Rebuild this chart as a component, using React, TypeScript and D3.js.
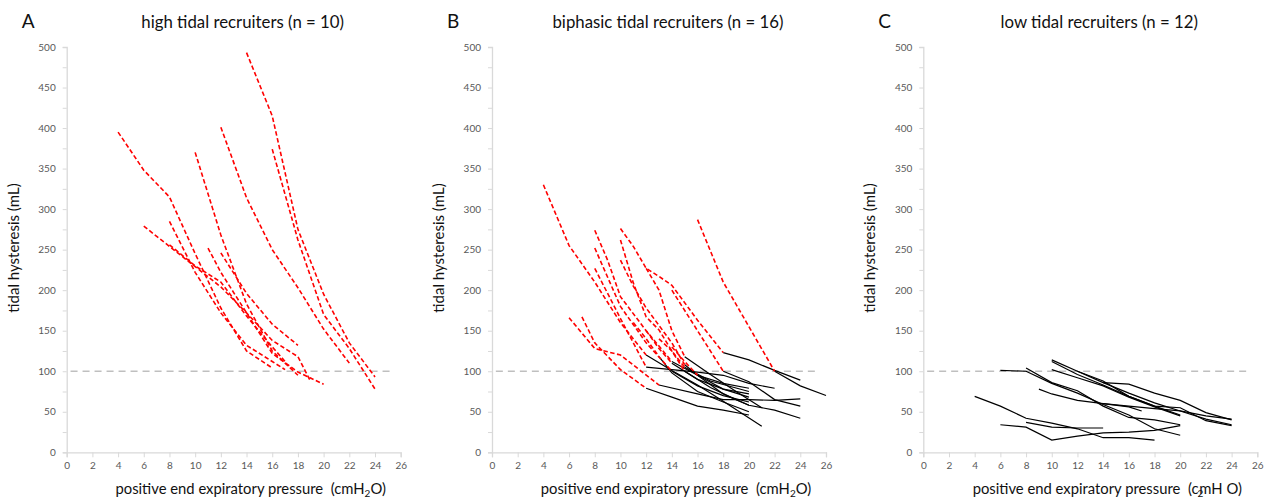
import React, { useEffect, useRef } from "react";
import * as d3 from "d3";

type Pt = [number, number];

// PEEP (cmH2O) tick labels and hysteresis (mL) tick labels
const xTicks = [0, 2, 4, 6, 8, 10, 12, 14, 16, 18, 20, 22, 24, 26];
const yTicks = [0, 50, 100, 150, 200, 250, 300, 350, 400, 450, 500];
const threshold = 100;

// A: high tidal recruiters, all dashed red
const highTidal: Pt[][] = [
  [[14, 493], [16, 415], [18, 275], [20, 195], [22, 135], [24, 93]],
  [[16, 374], [18, 262], [20, 170], [22, 128], [24, 78]],
  [[12, 401], [14, 314], [16, 250], [18, 203], [20, 152], [22, 110]],
  [[10, 370], [12, 268], [14, 183], [16, 125], [18, 95]],
  [[4, 395], [6, 348], [8, 315], [10, 245], [12, 178], [14, 125], [16, 104]],
  [[6, 279], [8, 254], [10, 229], [12, 204], [14, 172], [16, 138], [18, 118], [19, 87]],
  [[8, 285], [10, 222], [12, 172], [14, 132], [16, 112], [17, 102]],
  [[11, 252], [12, 222], [14, 172], [16, 122], [18, 99], [20, 84]],
  [[12, 246], [14, 196], [16, 158], [18, 132]],
  [[8, 256], [10, 230], [12, 210], [14, 168], [16, 130], [17, 112]],
];

// B: biphasic recruiters, dashed red part then solid black part
const biphasicRed: Pt[][] = [
  [[4, 330], [6, 255], [8, 210], [10, 160], [12, 120]],
  [[8, 274], [9, 237], [10, 192], [12, 150], [14, 112]],
  [[8, 252], [10, 180], [12, 135], [14, 100]],
  [[8, 227], [10, 165], [12, 105]],
  [[10, 262], [11, 209], [12, 167], [13, 151], [14, 125], [15, 105]],
  [[10, 276], [11, 254], [12, 227], [13, 217], [14, 206], [16, 163], [18, 123]],
  [[10, 237], [11, 205], [12, 178], [14, 135], [15, 108]],
  [[6, 166], [8, 128], [10, 120], [13, 83]],
  [[7, 167], [8, 135], [10, 102], [12, 79]],
  [[16, 287], [18, 210], [20, 155], [22, 100]],
  [[12, 227], [13, 200], [14, 150], [15, 118]],
  [[14, 200], [16, 150], [18, 100]],
  [[12, 150], [13, 128], [14, 110]],
  [[11, 160], [12, 140], [13, 118]],
  [[13, 140], [14, 125], [15, 100]],
  [[14, 130], [15, 112], [16, 95]],
];
const biphasicBlack: Pt[][] = [
  [[12, 120], [14, 101], [16, 83], [18, 63], [21, 32]],
  [[14, 112], [16, 95], [18, 85], [20, 79]],
  [[14, 100], [16, 82], [18, 70], [20, 62]],
  [[12, 105], [14, 102], [16, 99], [18, 95], [20, 85], [22, 79]],
  [[15, 105], [17, 88], [20, 75]],
  [[18, 123], [20, 114], [22, 101], [24, 89]],
  [[15, 108], [16, 95], [18, 72], [20, 58], [22, 52], [24, 42]],
  [[13, 83], [16, 72], [18, 65], [20, 65], [22, 64], [24, 66]],
  [[12, 79], [14, 68], [16, 57], [18, 52], [20, 46]],
  [[22, 100], [24, 82], [26, 70]],
  [[15, 118], [17, 96], [19, 75], [21, 55]],
  [[18, 100], [20, 87], [22, 65], [24, 57]],
  [[14, 110], [16, 90], [18, 78], [20, 72]],
  [[13, 118], [14, 98], [16, 75], [18, 62], [20, 50]],
  [[15, 100], [17, 80], [19, 65], [20, 58]],
  [[16, 95], [18, 78], [20, 68]],
];

// C: low tidal recruiters, all solid black
const lowTidal: Pt[][] = [
  [[4, 69], [6, 57], [8, 42], [10, 36], [12, 29], [14, 18], [16, 18], [18, 15]],
  [[6, 34], [8, 31], [10, 15], [12, 20], [14, 24], [16, 25], [18, 27], [20, 33]],
  [[8, 37], [10, 31], [12, 30], [14, 30]],
  [[6, 101], [8, 100], [10, 85], [12, 73], [14, 59], [16, 46], [18, 29], [20, 21]],
  [[8, 104], [10, 86], [12, 76], [14, 57], [16, 43], [18, 40], [20, 34]],
  [[10, 114], [12, 100], [14, 86], [16, 73], [18, 61], [20, 51], [22, 41], [24, 34]],
  [[10, 112], [12, 96], [14, 83], [16, 69], [18, 57], [20, 55], [22, 39], [24, 33]],
  [[10, 102], [12, 92], [14, 82], [16, 68], [18, 56], [20, 45]],
  [[12, 100], [14, 88], [16, 69], [18, 57], [20, 46]],
  [[14, 86], [16, 84], [18, 73], [20, 64], [22, 49], [24, 40]],
  [[9, 78], [10, 72], [12, 64], [14, 60], [16, 56], [17, 51]],
  [[14, 60], [16, 57], [18, 54], [20, 51], [22, 45], [24, 41]],
];

const panels = [
  { letter: "A", title: "high tidal recruiters (n = 10)", left: 66.7, red: highTidal, black: [] as Pt[][], garbled: false },
  { letter: "B", title: "biphasic tidal recruiters (n = 16)", left: 492, red: biphasicRed, black: biphasicBlack, garbled: false },
  { letter: "C", title: "low tidal recruiters (n = 12)", left: 923.3, red: [] as Pt[][], black: lowTidal, garbled: true },
];

const FONT = "Lato, 'Open Sans', sans-serif";

const App = () => {
  const ref = useRef<SVGSVGElement>(null);

  useEffect(() => {
    const svg = d3.select(ref.current);
    svg.selectAll("*").remove();

    panels.forEach((p) => {
      const x = d3.scaleLinear().domain([0, 26]).range([p.left, p.left + 334]);
      const y = d3.scaleLinear().domain([0, 500]).range([452.3, 47]);
      const g = svg.append("g");
      const line = d3
        .line<Pt>()
        .x((d) => x(d[0]))
        .y((d) => y(d[1]));

      // y axis with minor ticks every 25
      const yAxis = d3
        .axisLeft(y)
        .tickValues(d3.range(0, 501, 25))
        .tickSize(4)
        .tickPadding(7)
        .tickFormat((d) => ((d as number) % 50 === 0 && yTicks.includes(d as number) ? String(d) : ""));
      const gy = g.append("g").attr("transform", `translate(${p.left},0)`).call(yAxis);
      gy.select(".domain").attr("stroke", "#d9d9d9").attr("stroke-width", 1.3);
      gy.selectAll(".tick line").attr("stroke", "#d9d9d9");
      gy.selectAll("text").attr("fill", "#595959").style("font-size", "10px").style("font-family", FONT);

      const xAxis = d3.axisBottom(x).tickValues(xTicks).tickSize(5).tickPadding(5);
      const gx = g.append("g").attr("transform", `translate(0,452.3)`).call(xAxis);
      gx.select(".domain").attr("stroke", "#d9d9d9").attr("stroke-width", 1.3);
      gx.selectAll(".tick line").attr("stroke", "#d9d9d9");
      gx.selectAll("text").attr("fill", "#595959").style("font-size", "10px").style("font-family", FONT);

      // 100 mL threshold
      g.append("line")
        .attr("x1", x(0.3))
        .attr("x2", x(25.4))
        .attr("y1", y(threshold))
        .attr("y2", y(threshold))
        .attr("stroke", "#bfbfbf")
        .attr("stroke-width", 1.6)
        .attr("stroke-dasharray", "7,5");

      g.selectAll("path.black")
        .data(p.black)
        .enter()
        .append("path")
        .attr("class", "black")
        .attr("d", (d) => line(d))
        .attr("fill", "none")
        .attr("stroke", "#000")
        .attr("stroke-width", 1.2);

      g.selectAll("path.red")
        .data(p.red)
        .enter()
        .append("path")
        .attr("class", "red")
        .attr("d", (d) => line(d))
        .attr("fill", "none")
        .attr("stroke", "#ff0000")
        .attr("stroke-width", 1.6)
        .attr("stroke-dasharray", "4.5,2.5");

      const cx = p.left + 176;
      g.append("text")
        .attr("x", p.left - 45)
        .attr("y", 28)
        .text(p.letter)
        .style("font-family", FONT)
        .style("font-size", "19px")
        .attr("fill", "#111");
      g.append("text")
        .attr("x", cx)
        .attr("y", 28)
        .attr("text-anchor", "middle")
        .text(p.title)
        .style("font-family", FONT)
        .style("font-size", "16.8px")
        .attr("fill", "#111");

      g.append("text")
        .attr("transform", `translate(${p.left - 48},248) rotate(-90)`)
        .attr("text-anchor", "middle")
        .text("tidal hysteresis (mL)")
        .style("font-family", FONT)
        .style("font-size", "15px")
        .attr("fill", "#111");

      const xl = g
        .append("text")
        .attr("x", p.left + 184)
        .attr("y", 494)
        .attr("text-anchor", "middle")
        .style("font-family", FONT)
        .style("font-size", "14.8px")
        .style("white-space", "pre")
        .attr("fill", "#111");
      if (p.garbled) {
        xl.append("tspan").text("positive end expiratory pressure  (c");
        xl.append("tspan").attr("dy", 3).attr("dx", -1).style("font-size", "10px").text("2");
        xl.append("tspan").attr("dy", -3).attr("dx", -4).text("mH O)");
      } else {
        xl.append("tspan").text("positive end expiratory pressure  (cmH");
        xl.append("tspan").attr("dy", 3).style("font-size", "10px").text("2");
        xl.append("tspan").attr("dy", -3).text("O)");
      }
    });
  }, []);

  return (
    <svg
      ref={ref}
      width={1269}
      height={500}
      style={{ position: "absolute", left: 0, top: 0, background: "#fff" }}
    ></svg>
  );
};

export default App;
